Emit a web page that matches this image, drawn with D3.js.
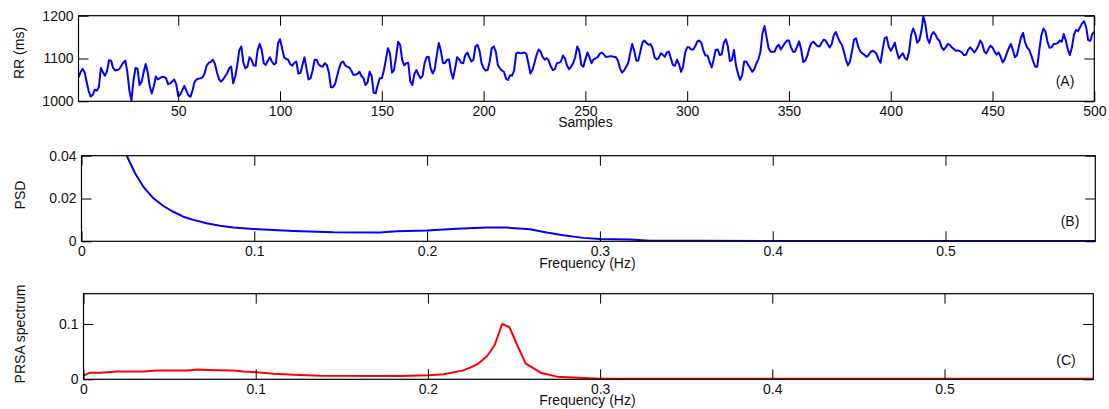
<!DOCTYPE html>
<html>
<head>
<meta charset="utf-8">
<script src="https://cdn.jsdelivr.net/npm/d3@7/dist/d3.min.js"></script>
<style>
  html, body { margin: 0; padding: 0; background: #fff; }
  svg { display: block; }
  text { font-family: "Liberation Sans", Arial, Helvetica, sans-serif; fill: #111; }
</style>
</head>
<body>
<svg id="chart" width="1109" height="409"></svg>
<script>
// RR interval series (ms), samples 1..500
const rrValues = [
  1056,1068,1076,1068,1045,1024,1011,1015,1027,1025,
  1033,1078,1068,1060,1070,1096,1095,1078,1072,1073,
  1075,1083,1090,1095,1068,1025,1002,1048,1078,1076,
  1038,1045,1068,1087,1068,1035,1018,1035,1058,1051,
  1054,1057,1057,1054,1040,1042,1046,1051,1040,1012,
  1016,1026,1036,1025,1014,1011,1025,1045,1051,1053,
  1054,1056,1066,1084,1090,1092,1097,1088,1068,1052,
  1046,1051,1058,1065,1077,1081,1042,1058,1085,1120,
  1128,1090,1077,1081,1103,1097,1084,1083,1120,1134,
  1120,1089,1085,1095,1103,1093,1086,1089,1136,1145,
  1124,1103,1099,1097,1087,1083,1090,1093,1065,1066,
  1085,1103,1077,1051,1054,1072,1097,1097,1086,1082,
  1081,1089,1085,1067,1033,1033,1040,1058,1077,1090,
  1093,1084,1081,1079,1072,1062,1062,1064,1069,1059,
  1054,1038,1044,1069,1059,1020,1019,1038,1054,1054,
  1072,1097,1124,1112,1067,1073,1103,1139,1132,1097,
  1084,1089,1090,1046,1038,1064,1073,1062,1054,1059,
  1089,1103,1104,1077,1065,1075,1108,1136,1118,1090,
  1089,1097,1098,1069,1053,1077,1103,1098,1090,1089,
  1108,1114,1103,1093,1097,1128,1132,1118,1089,1077,
  1072,1073,1093,1124,1128,1116,1085,1077,1072,1069,
  1053,1050,1061,1060,1072,1112,1114,1112,1113,1114,
  1111,1089,1065,1073,1090,1108,1121,1116,1104,1097,
  1101,1095,1081,1073,1075,1089,1090,1093,1107,1100,
  1083,1075,1081,1089,1103,1128,1118,1085,1081,1098,
  1114,1103,1089,1098,1100,1103,1111,1114,1110,1104,
  1104,1105,1105,1104,1103,1095,1077,1067,1072,1080,
  1089,1112,1134,1118,1095,1095,1116,1137,1142,1136,
  1132,1134,1124,1103,1098,1101,1112,1109,1104,1114,
  1116,1100,1085,1083,1097,1087,1069,1081,1114,1126,
  1126,1121,1121,1129,1140,1142,1136,1118,1107,1107,
  1092,1079,1097,1120,1121,1108,1110,1137,1145,1128,
  1094,1097,1120,1083,1064,1050,1061,1093,1093,1085,
  1077,1069,1075,1089,1098,1116,1159,1176,1150,1124,
  1116,1116,1116,1128,1132,1121,1128,1136,1142,1142,
  1126,1116,1116,1128,1140,1121,1092,1095,1106,1124,
  1136,1139,1134,1129,1128,1136,1144,1142,1134,1126,
  1134,1154,1162,1150,1139,1132,1116,1097,1084,1093,
  1118,1144,1147,1128,1117,1112,1109,1104,1107,1115,
  1118,1116,1111,1098,1090,1120,1147,1150,1128,1118,
  1126,1137,1116,1100,1107,1112,1101,1097,1116,1155,
  1170,1159,1137,1142,1163,1198,1181,1147,1136,1155,
  1162,1155,1146,1141,1126,1120,1126,1134,1132,1126,
  1122,1118,1119,1117,1114,1108,1109,1120,1126,1121,
  1114,1120,1129,1142,1134,1116,1112,1122,1130,1126,
  1116,1109,1114,1104,1091,1098,1112,1124,1134,1120,
  1103,1108,1129,1149,1160,1137,1126,1120,1108,1093,
  1081,1081,1120,1154,1170,1163,1139,1125,1126,1134,
  1134,1136,1142,1139,1157,1142,1121,1108,1126,1155,
  1167,1164,1173,1182,1187,1173,1143,1141,1157,1162
];

// Power spectral density of the RR series
const psdFreq = [0.0262,0.031,0.0358,0.0416,0.0474,0.0531,0.0589,0.0647,0.0724,0.0801,
                 0.0879,0.0994,0.111,0.1226,0.1457,0.1727,0.1824,0.1998,0.2171,0.2345,
                 0.2461,0.2595,0.2692,0.2788,0.2904,0.3001,0.3174,0.329,0.36,0.45,0.5867];
const psdValues = [0.0400,0.0318,0.0255,0.0201,0.0165,0.0138,0.0115,0.0100,0.0084,0.0073,
                   0.0065,0.0058,0.0053,0.0048,0.0042,0.0041,0.0047,0.0050,0.0059,0.0064,
                   0.0064,0.0056,0.0041,0.0028,0.0016,0.0011,0.0008,0.0003,0.0002,0.0001,0.0001];

// PRSA spectrum
const prsaFreq = [0,0.0038,0.0096,0.0193,0.0348,0.0426,0.06,0.0668,0.0716,0.0871,
                  0.0929,0.1007,0.1104,0.122,0.1375,0.184,0.2005,0.2092,0.2199,0.2247,
                  0.2295,0.2344,0.2388,0.2431,0.2474,0.2518,0.2567,0.2654,0.2751,0.2906,
                  0.3003,0.358,0.5867];
const prsaValues = [0.0066,0.012,0.012,0.0139,0.0139,0.0157,0.0157,0.0175,0.0169,0.0157,
                    0.0139,0.0127,0.0102,0.0084,0.0066,0.0058,0.0072,0.009,0.0157,0.021,
                    0.0289,0.042,0.062,0.100,0.094,0.062,0.0289,0.012,0.0048,0.0024,
                    0.0012,0.0010,0.0008];

// Tick labels
const sampleTicks = [50,100,150,200,250,300,350,400,450,500];
const rrTicks = [1000,1100,1200];
const freqTicks = [0,0.1,0.2,0.3,0.4,0.5];
const psdTicks = [0,0.02,0.04];
const prsaTicks = [0,0.1];

const svg = d3.select("#chart");
svg.append("rect").attr("width",1109).attr("height",409).attr("fill","#fff");

const FONT = 14;

function panel(opts) {
  const { id, left, right, top, bottom, xDomain, yDomain, xTicks, yTicks,
          xFmt, yFmt, points, color, xTitle, xTitleY, yTitle, yTitleX, yTitleY,
          tag, tagX, tagY } = opts;
  const x = d3.scaleLinear().domain(xDomain).range([left, right]);
  const y = d3.scaleLinear().domain(yDomain).range([bottom, top]);
  const g = svg.append("g");

  g.append("clipPath").attr("id", "clip-" + id)
    .append("rect").attr("x", left).attr("y", top)
    .attr("width", right - left).attr("height", bottom - top);

  const line = d3.line().x(d => x(d[0])).y(d => y(d[1]));
  g.append("path")
    .attr("clip-path", "url(#clip-" + id + ")")
    .attr("d", line(points))
    .attr("fill", "none")
    .attr("stroke", color)
    .attr("stroke-width", 2)
    .attr("stroke-linejoin", "round");

  const style = sel => {
    sel.select(".domain").remove();
    sel.attr("font-size", FONT).attr("font-family", null);
    sel.selectAll(".tick line").attr("stroke", "#000").attr("stroke-width", 1);
    sel.selectAll(".tick text").attr("fill", "#111");
  };

  g.append("g").attr("transform", `translate(0,${bottom})`)
    .call(d3.axisBottom(x).tickValues(xTicks).tickFormat(xFmt)
      .tickSizeInner(-10).tickSizeOuter(0).tickPadding(5)).call(style);
  g.append("g").attr("transform", `translate(0,${top})`)
    .call(d3.axisTop(x).tickValues(xTicks).tickFormat("")
      .tickSizeInner(-10).tickSizeOuter(0)).call(style);
  g.append("g").attr("transform", `translate(${left},0)`)
    .call(d3.axisLeft(y).tickValues(yTicks).tickFormat(yFmt)
      .tickSizeInner(-10).tickSizeOuter(0).tickPadding(5)).call(style);
  g.append("g").attr("transform", `translate(${right},0)`)
    .call(d3.axisRight(y).tickValues(yTicks).tickFormat("")
      .tickSizeInner(-10).tickSizeOuter(0)).call(style);

  g.append("rect")
    .attr("x", left).attr("y", top)
    .attr("width", right - left).attr("height", bottom - top)
    .attr("fill", "none").attr("stroke", "#000").attr("stroke-width", 1.2);

  g.append("text").attr("x", (left + right) / 2 - 1).attr("y", xTitleY)
    .attr("text-anchor", "middle").attr("font-size", FONT).text(xTitle);

  g.append("text")
    .attr("transform", `translate(${yTitleX},${yTitleY}) rotate(-90)`)
    .attr("text-anchor", "middle").attr("font-size", FONT).text(yTitle);

  g.append("text").attr("x", tagX).attr("y", tagY)
    .attr("text-anchor", "middle").attr("font-size", FONT).text(tag);
}

const plain = d => String(d);

panel({
  id: "rr", left: 78.5, right: 1094.3, top: 15.7, bottom: 101.3,
  xDomain: [1, 500], yDomain: [1000, 1200],
  xTicks: sampleTicks, yTicks: rrTicks, xFmt: d3.format("d"), yFmt: d3.format("d"),
  points: rrValues.map((v, i) => [i + 1, v]), color: "#0000ff",
  xTitle: "Samples", xTitleY: 127, yTitle: "RR (ms)", yTitleX: 24, yTitleY: 53,
  tag: "(A)", tagX: 1065, tagY: 86
});

panel({
  id: "psd", left: 81.5, right: 1095.3, top: 155.7, bottom: 241.3,
  xDomain: [0, 0.5867], yDomain: [0, 0.04],
  xTicks: freqTicks, yTicks: psdTicks, xFmt: plain, yFmt: plain,
  points: psdFreq.map((f, i) => [f, psdValues[i]]), color: "#0000ff",
  xTitle: "Frequency (Hz)", xTitleY: 268, yTitle: "PSD", yTitleX: 25, yTitleY: 195,
  tag: "(B)", tagX: 1070, tagY: 226
});

panel({
  id: "prsa", left: 83.5, right: 1093.3, top: 293.7, bottom: 379.3,
  xDomain: [0, 0.5864], yDomain: [0, 0.1547],
  xTicks: freqTicks, yTicks: prsaTicks, xFmt: plain, yFmt: plain,
  points: prsaFreq.map((f, i) => [f, prsaValues[i]]), color: "#ff0000",
  xTitle: "Frequency (Hz)", xTitleY: 405, yTitle: "PRSA spectrum", yTitleX: 25, yTitleY: 334,
  tag: "(C)", tagX: 1066, tagY: 365
});
</script>
</body>
</html>
